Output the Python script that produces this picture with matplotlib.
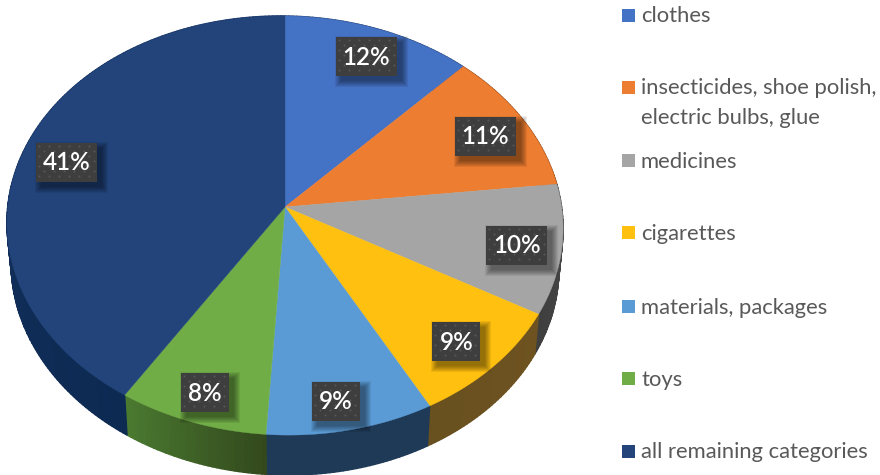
import matplotlib
matplotlib.use('Agg')
import matplotlib.pyplot as plt
from matplotlib.collections import PolyCollection
from matplotlib.colors import to_rgb
from matplotlib.patches import Rectangle
import numpy as np

categories = ['clothes', 'insecticides, shoe polish,\nelectric bulbs, glue', 'medicines',
              'cigarettes', 'materials, packages', 'toys', 'all remaining categories']
shares = [12, 11, 10, 9, 9, 8, 41]
top_colors = ['#4472c4', '#ed7d31', '#a5a5a5', '#ffc010', '#5b9bd5', '#70ad47', '#22447a']
# wall shade at the start and the end of each slice (clockwise)
wall_colors = [('#2a4678', '#2a4678'), ('#8f4c1e', '#8f4c1e'), ('#4a4a4a', '#3f3f3f'),
               ('#6e5320', '#68501f'), ('#1f3a56', '#1f3a56'), ('#33491d', '#4a7a30'),
               ('#0c2a52', '#1a3564')]
legend_rows = [15, 87, 160, 232, 306, 378, 451]
label_nudge = [(2, -1), (2, 3), (3, 3), (0, 4.5), (-3, 12.5), (-4, 10), (-2, 5)]

plt.rcParams['font.family'] = ['Lato', 'DejaVu Sans']

# pie geometry in pixels, the disc is seen with a little perspective
cx, cy = 285, 207
rad_x, rad_y = 277, 207.9
persp = 0.0883
tilt = 3
depth = 40
wall_shrink = 0.985


def project(frac, deg):
    u = frac * np.sin(np.radians(deg))
    v = frac * np.cos(np.radians(deg))
    w = 1 + persp * v
    return cx + rad_x * u / w, cy - rad_y * v / w + tilt * u


fig = plt.figure(figsize=(8.8, 4.75), dpi=100)
ax = fig.add_axes([0, 0, 1, 1])
ax.set_xlim(0, 880)
ax.set_ylim(475, 0)
ax.axis('off')

edges = np.cumsum([0] + shares) * 3.6

# side wall first, the top face covers whatever is hidden
for i in range(len(shares)):
    t = np.linspace(edges[i], edges[i + 1], int(shares[i] * 4) + 2)
    x, y = project(1, t)
    xb = cx + (x - cx) * wall_shrink
    yb = y + depth
    c0, c1 = np.array(to_rgb(wall_colors[i][0])), np.array(to_rgb(wall_colors[i][1]))
    quads, cols = [], []
    for j in range(len(t) - 1):
        quads.append([(x[j], y[j]), (x[j + 1], y[j + 1]), (xb[j + 1], yb[j + 1]), (xb[j], yb[j])])
        cols.append(c0 + (c1 - c0) * j / max(len(t) - 2, 1))
    ax.add_collection(PolyCollection(quads, facecolors=cols, edgecolors=cols, linewidths=1.0, zorder=1))

for i in range(len(shares)):
    t = np.linspace(edges[i], edges[i + 1], 120)
    x, y = project(1, t)
    ax.fill(np.r_[cx, x], np.r_[cy, y], color=top_colors[i], lw=0.3, zorder=2)

# value labels: dark dotted box with a soft shadow
for i in range(len(shares)):
    mid = (edges[i] + edges[i + 1]) / 2
    lx, ly = project(0.83, mid)
    lx += label_nudge[i][0]
    ly += label_nudge[i][1]
    w = 61 if shares[i] >= 10 else 48
    h = 39
    for k in range(7):
        grow = 6 - k
        ax.add_patch(Rectangle((lx - w / 2 + 5 - grow, ly - h / 2 + 5 - grow), w + 2 * grow, h + 2 * grow,
                               fc='black', ec='none', alpha=0.07, zorder=3))
    ax.add_patch(Rectangle((lx - w / 2, ly - h / 2), w, h, fc='#3e3e3e', ec='none', zorder=4))
    # staggered dot pattern inside the box
    dx, dy = [], []
    for r, yy in enumerate(np.arange(ly - h / 2 + 3, ly + h / 2 - 1, 5)):
        for xx in np.arange(lx - w / 2 + 3 + (r % 2) * 5, lx + w / 2 - 1, 10):
            dx.append(xx)
            dy.append(yy)
    ax.scatter(dx, dy, s=2.2, c='#565656', linewidths=0, zorder=4.5)
    ax.text(lx, ly + 0.5, f'{shares[i]}%', color='white', fontsize=17.5, fontweight='semibold',
            ha='center', va='center', zorder=5)

# legend on the right, drawn row by row
for i, name in enumerate(categories):
    y0 = legend_rows[i]
    ax.add_patch(Rectangle((622, y0 - 6.5), 13, 13, fc=top_colors[i], ec='none', zorder=2))
    for n, line in enumerate(name.split('\n')):
        ax.text(641, y0 + 7.5 + n * 30, line, color='#595959', fontsize=15.8, ha='left', va='baseline')

fig.savefig('out.png', dpi=100, facecolor='white')
